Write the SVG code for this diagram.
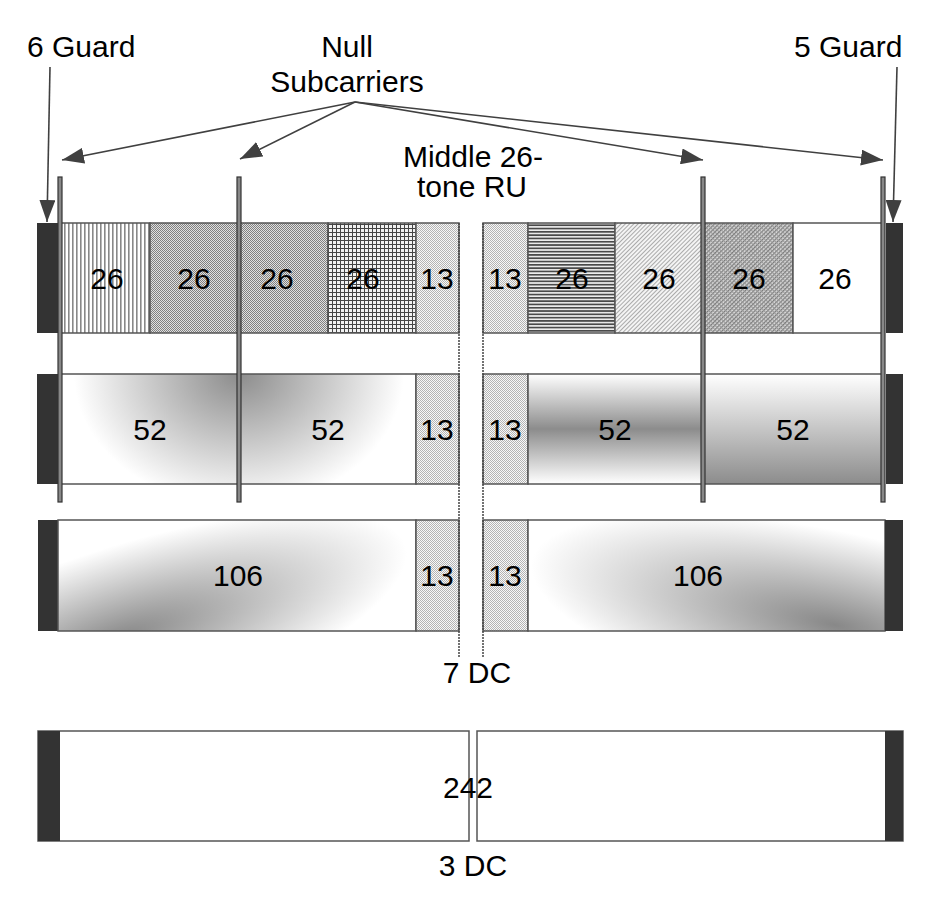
<svg xmlns="http://www.w3.org/2000/svg" width="930" height="904" viewBox="0 0 930 904">
<style>
text{font-family:"Liberation Sans",Arial,sans-serif;font-size:30px;fill:#000}
.c{text-anchor:middle}
.cell{stroke:#555;stroke-width:1.5}
.guard{fill:#333}
.bar{fill:#888;stroke:#333;stroke-width:1.2}
.arr{stroke:#404040;stroke-width:1.6;fill:none}
.dc{stroke:#444;stroke-width:1.5;stroke-dasharray:2 1;fill:none}
</style>
<defs>
<marker id="ah" markerUnits="userSpaceOnUse" markerWidth="24" markerHeight="16" refX="22" refY="8" orient="auto">
<path d="M0,0 L22,8 L0,16 z" fill="#404040"/>
</marker>
<pattern id="pVert" patternUnits="userSpaceOnUse" width="4" height="4"><rect width="4" height="4" fill="#fff"/><rect width="1.6" height="4" fill="#888"/></pattern>
<pattern id="pCheck" patternUnits="userSpaceOnUse" width="2" height="2"><rect width="2" height="2" fill="#e0e0e0"/><rect width="1" height="1" fill="#808080"/><rect x="1" y="1" width="1" height="1" fill="#808080"/></pattern>
<pattern id="pGrid" patternUnits="userSpaceOnUse" width="4" height="4"><rect width="4" height="4" fill="#f2f2f2"/><rect width="1" height="4" fill="#444"/><rect width="4" height="1" fill="#444"/></pattern>
<pattern id="pLight" patternUnits="userSpaceOnUse" width="2" height="2"><rect width="2" height="2" fill="#f8f8f8"/><rect width="1" height="1" fill="#b4b4b4"/><rect x="1" y="1" width="1" height="1" fill="#b4b4b4"/></pattern>
<pattern id="pHoriz" patternUnits="userSpaceOnUse" width="4" height="3.3"><rect width="4" height="3.3" fill="#eee"/><rect width="4" height="1.7" fill="#4a4a4a"/></pattern>
<pattern id="pDiagL" patternUnits="userSpaceOnUse" width="3" height="3" patternTransform="rotate(45)"><rect width="3" height="3" fill="#f4f4f4"/><rect width="1" height="3" fill="#aaa"/></pattern>
<pattern id="pDiagD" patternUnits="userSpaceOnUse" width="3" height="3" patternTransform="rotate(45)"><rect width="3" height="3" fill="#d8d8d8"/><rect width="1.2" height="3" fill="#777"/><rect width="3" height="1" fill="#999"/></pattern>
<radialGradient id="g52L" gradientUnits="userSpaceOnUse" cx="239" cy="374" r="165" gradientTransform="translate(239 374) scale(1 0.8) translate(-239 -374)"><stop offset="0" stop-color="#8c8c8c"/><stop offset="1" stop-color="#fff"/></radialGradient>
<linearGradient id="g52M" x1="0" y1="0" x2="0" y2="1"><stop offset="0" stop-color="#fff"/><stop offset="0.5" stop-color="#8c8c8c"/><stop offset="1" stop-color="#fff"/></linearGradient>
<linearGradient id="g52B" x1="0" y1="0" x2="0" y2="1"><stop offset="0" stop-color="#fff"/><stop offset="1" stop-color="#8c8c8c"/></linearGradient>
<radialGradient id="g106L" gradientUnits="userSpaceOnUse" cx="120" cy="638" r="300" gradientTransform="translate(120 638) rotate(-18) scale(1 0.3) translate(-120 -638)"><stop offset="0" stop-color="#888"/><stop offset="1" stop-color="#fff"/></radialGradient>
<radialGradient id="g106R" gradientUnits="userSpaceOnUse" cx="835" cy="625" r="310" gradientTransform="translate(835 625) rotate(12) scale(1 0.3) translate(-835 -625)"><stop offset="0" stop-color="#888"/><stop offset="1" stop-color="#fff"/></radialGradient>
</defs>

<g id="labels">
<text x="27" y="57">6 Guard</text>
<text class="c" x="347" y="57">Null</text>
<text class="c" x="347" y="92">Subcarriers</text>
<text x="794" y="57">5 Guard</text>
<text class="c" x="473" y="167">Middle 26-</text>
<text class="c" x="472" y="197">tone RU</text>
<text class="c" x="477" y="683">7 DC</text>
<text class="c" x="473" y="876">3 DC</text>
</g>

<g id="row1">
<rect class="guard" x="37" y="223" width="21" height="110"/>
<rect class="cell" x="60" y="223" width="90" height="110" fill="url(#pVert)"/>
<rect class="cell" x="150" y="223" width="89" height="110" fill="url(#pCheck)"/>
<rect class="cell" x="239" y="223" width="89" height="110" fill="url(#pCheck)"/>
<rect class="cell" x="328" y="223" width="88" height="110" fill="url(#pGrid)"/>
<rect class="cell" x="416" y="223" width="43" height="110" fill="url(#pLight)"/>
<rect class="cell" x="483" y="223" width="45" height="110" fill="url(#pLight)"/>
<rect class="cell" x="528" y="223" width="87" height="110" fill="url(#pHoriz)"/>
<rect class="cell" x="615" y="223" width="88" height="110" fill="url(#pDiagL)"/>
<rect class="cell" x="703" y="223" width="90" height="110" fill="url(#pDiagD)"/>
<rect class="cell" x="793" y="223" width="89" height="110" fill="#fff"/>
<rect class="guard" x="886" y="223" width="17" height="110"/>
<text class="c" x="107" y="289">26</text>
<text class="c" x="194" y="289">26</text>
<text class="c" x="277" y="289">26</text>
<text class="c" x="363" y="289">26</text>
<text class="c" x="437" y="289">13</text>
<text class="c" x="505" y="289">13</text>
<text class="c" x="572" y="289">26</text>
<text class="c" x="659" y="289">26</text>
<text class="c" x="749" y="289">26</text>
<text class="c" x="835" y="289">26</text>
</g>

<g id="row2">
<rect class="guard" x="37" y="374" width="21" height="110"/>
<rect class="cell" x="60" y="374" width="179" height="110" fill="url(#g52L)"/>
<rect class="cell" x="239" y="374" width="177" height="110" fill="url(#g52L)"/>
<rect class="cell" x="416" y="374" width="43" height="110" fill="url(#pLight)"/>
<rect class="cell" x="483" y="374" width="45" height="110" fill="url(#pLight)"/>
<rect class="cell" x="528" y="374" width="175" height="110" fill="url(#g52M)"/>
<rect class="cell" x="703" y="374" width="179" height="110" fill="url(#g52B)"/>
<rect class="guard" x="886" y="374" width="17" height="110"/>
<text class="c" x="150" y="440">52</text>
<text class="c" x="328" y="440">52</text>
<text class="c" x="437" y="440">13</text>
<text class="c" x="505" y="440">13</text>
<text class="c" x="615" y="440">52</text>
<text class="c" x="793" y="440">52</text>
</g>

<g id="row3">
<rect class="guard" x="38" y="520" width="20" height="111"/>
<rect class="cell" x="58" y="520" width="358" height="111" fill="url(#g106L)"/>
<rect class="cell" x="416" y="520" width="43" height="111" fill="url(#pLight)"/>
<rect class="cell" x="483" y="520" width="45" height="111" fill="url(#pLight)"/>
<rect class="cell" x="528" y="520" width="357" height="111" fill="url(#g106R)"/>
<rect class="guard" x="885" y="520" width="18" height="111"/>
<text class="c" x="238" y="586">106</text>
<text class="c" x="437" y="586">13</text>
<text class="c" x="505" y="586">13</text>
<text class="c" x="698" y="586">106</text>
</g>

<g id="row4">
<rect class="cell" x="38" y="731" width="431" height="110" fill="#fff"/>
<rect class="guard" x="38" y="731" width="22" height="110"/>
<rect class="cell" x="477" y="731" width="426" height="110" fill="#fff"/>
<rect class="guard" x="885" y="731" width="18" height="110"/>
<text class="c" x="468" y="798">242</text>
</g>

<g id="nulls">
<rect class="bar" x="58" y="177" width="4" height="325"/>
<rect class="bar" x="237" y="177" width="4" height="325"/>
<rect class="bar" x="701" y="177" width="4" height="325"/>
<rect class="bar" x="881" y="177" width="4" height="325"/>
</g>

<g id="connectors">
<line class="dc" x1="459" y1="223" x2="459" y2="658"/>
<line class="dc" x1="483" y1="223" x2="483" y2="658"/>
<line class="arr" x1="50" y1="67" x2="47" y2="222" marker-end="url(#ah)"/>
<line class="arr" x1="897" y1="67" x2="893" y2="222" marker-end="url(#ah)"/>
<line class="arr" x1="355" y1="102" x2="62" y2="160" marker-end="url(#ah)"/>
<line class="arr" x1="355" y1="102" x2="240" y2="159" marker-end="url(#ah)"/>
<line class="arr" x1="355" y1="102" x2="703" y2="160" marker-end="url(#ah)"/>
<line class="arr" x1="355" y1="102" x2="883" y2="160" marker-end="url(#ah)"/>
</g>
</svg>
